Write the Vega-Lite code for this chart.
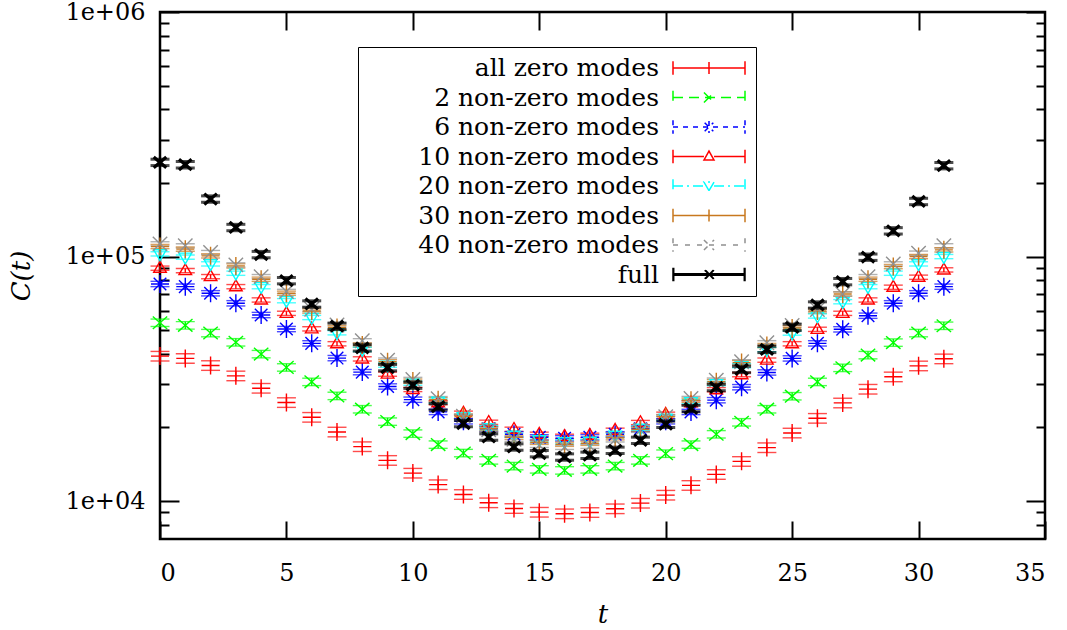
{
  "$schema": "https://vega.github.io/schema/vega-lite/v6.json",
  "width": 885,
  "height": 527,
  "autosize": {"type": "none"},
  "padding": {"left": 160, "top": 12, "right": 22, "bottom": 91},
  "background": "white",
  "config": {
    "view": {"stroke": "black", "strokeWidth": 2.5},
    "axis": {"grid": false, "domain": false, "tickColor": "black", "tickWidth": 2, "labelFont": "DejaVu Serif", "labelFontSize": 24, "labelColor": "black", "titleFont": "DejaVu Serif", "titleFontSize": 26, "titleFontWeight": "normal", "titleFontStyle": "italic", "titleColor": "black"}
  },
  "datasets": {
    "pts": [
      {"s":"all zero modes","t":0,"v":39170,"e":1763},{"s":"all zero modes","t":1,"v":38330,"e":1725},{"s":"all zero modes","t":2,"v":35870,"e":1614},{"s":"all zero modes","t":3,"v":32530,"e":1464},{"s":"all zero modes","t":4,"v":28960,"e":1303},{"s":"all zero modes","t":5,"v":25310,"e":1139},{"s":"all zero modes","t":6,"v":22030,"e":991},{"s":"all zero modes","t":7,"v":19180,"e":863},{"s":"all zero modes","t":8,"v":16710,"e":752},{"s":"all zero modes","t":9,"v":14680,"e":661},{"s":"all zero modes","t":10,"v":13020,"e":586},{"s":"all zero modes","t":11,"v":11680,"e":526},{"s":"all zero modes","t":12,"v":10650,"e":479},{"s":"all zero modes","t":13,"v":9850,"e":443},{"s":"all zero modes","t":14,"v":9335,"e":420},{"s":"all zero modes","t":15,"v":9013,"e":406},{"s":"all zero modes","t":16,"v":8880,"e":400},{"s":"all zero modes","t":17,"v":8990,"e":405},{"s":"all zero modes","t":18,"v":9310,"e":419},{"s":"all zero modes","t":19,"v":9813,"e":442},{"s":"all zero modes","t":20,"v":10583,"e":476},{"s":"all zero modes","t":21,"v":11600,"e":522},{"s":"all zero modes","t":22,"v":12860,"e":579},{"s":"all zero modes","t":23,"v":14540,"e":654},{"s":"all zero modes","t":24,"v":16550,"e":745},{"s":"all zero modes","t":25,"v":19000,"e":855},{"s":"all zero modes","t":26,"v":21820,"e":982},{"s":"all zero modes","t":27,"v":25210,"e":1134},{"s":"all zero modes","t":28,"v":28700,"e":1292},{"s":"all zero modes","t":29,"v":32230,"e":1450},{"s":"all zero modes","t":30,"v":35740,"e":1608},{"s":"all zero modes","t":31,"v":38190,"e":1719},
      {"s":"2 non-zero modes","t":0,"v":53640,"e":1877},{"s":"2 non-zero modes","t":1,"v":52350,"e":1832},{"s":"2 non-zero modes","t":2,"v":48670,"e":1703},{"s":"2 non-zero modes","t":3,"v":44620,"e":1562},{"s":"2 non-zero modes","t":4,"v":39930,"e":1398},{"s":"2 non-zero modes","t":5,"v":35220,"e":1233},{"s":"2 non-zero modes","t":6,"v":30740,"e":1076},{"s":"2 non-zero modes","t":7,"v":26940,"e":943},{"s":"2 non-zero modes","t":8,"v":23760,"e":832},{"s":"2 non-zero modes","t":9,"v":21150,"e":740},{"s":"2 non-zero modes","t":10,"v":18890,"e":661},{"s":"2 non-zero modes","t":11,"v":17030,"e":596},{"s":"2 non-zero modes","t":12,"v":15730,"e":551},{"s":"2 non-zero modes","t":13,"v":14680,"e":514},{"s":"2 non-zero modes","t":14,"v":13910,"e":487},{"s":"2 non-zero modes","t":15,"v":13490,"e":472},{"s":"2 non-zero modes","t":16,"v":13360,"e":468},{"s":"2 non-zero modes","t":17,"v":13490,"e":472},{"s":"2 non-zero modes","t":18,"v":13910,"e":487},{"s":"2 non-zero modes","t":19,"v":14680,"e":514},{"s":"2 non-zero modes","t":20,"v":15640,"e":547},{"s":"2 non-zero modes","t":21,"v":17030,"e":596},{"s":"2 non-zero modes","t":22,"v":18770,"e":657},{"s":"2 non-zero modes","t":23,"v":21010,"e":735},{"s":"2 non-zero modes","t":24,"v":23760,"e":832},{"s":"2 non-zero modes","t":25,"v":26860,"e":940},{"s":"2 non-zero modes","t":26,"v":30740,"e":1076},{"s":"2 non-zero modes","t":27,"v":35080,"e":1228},{"s":"2 non-zero modes","t":28,"v":39550,"e":1384},{"s":"2 non-zero modes","t":29,"v":44500,"e":1558},{"s":"2 non-zero modes","t":30,"v":48670,"e":1703},{"s":"2 non-zero modes","t":31,"v":52150,"e":1825},
      {"s":"6 non-zero modes","t":0,"v":77270,"e":1932},{"s":"6 non-zero modes","t":1,"v":75330,"e":1883},{"s":"6 non-zero modes","t":2,"v":70790,"e":1770},{"s":"6 non-zero modes","t":3,"v":64420,"e":1611},{"s":"6 non-zero modes","t":4,"v":57690,"e":1442},{"s":"6 non-zero modes","t":5,"v":50550,"e":1264},{"s":"6 non-zero modes","t":6,"v":44170,"e":1104},{"s":"6 non-zero modes","t":7,"v":38450,"e":961},{"s":"6 non-zero modes","t":8,"v":33690,"e":842},{"s":"6 non-zero modes","t":9,"v":29440,"e":736},{"s":"6 non-zero modes","t":10,"v":25990,"e":650},{"s":"6 non-zero modes","t":11,"v":23160,"e":579},{"s":"6 non-zero modes","t":12,"v":21210,"e":530},{"s":"6 non-zero modes","t":13,"v":19760,"e":494},{"s":"6 non-zero modes","t":14,"v":18770,"e":469},{"s":"6 non-zero modes","t":15,"v":18240,"e":456},{"s":"6 non-zero modes","t":16,"v":18070,"e":452},{"s":"6 non-zero modes","t":17,"v":18240,"e":456},{"s":"6 non-zero modes","t":18,"v":18770,"e":469},{"s":"6 non-zero modes","t":19,"v":19760,"e":494},{"s":"6 non-zero modes","t":20,"v":21210,"e":530},{"s":"6 non-zero modes","t":21,"v":23160,"e":579},{"s":"6 non-zero modes","t":22,"v":25870,"e":647},{"s":"6 non-zero modes","t":23,"v":29240,"e":731},{"s":"6 non-zero modes","t":24,"v":33590,"e":840},{"s":"6 non-zero modes","t":25,"v":38340,"e":959},{"s":"6 non-zero modes","t":26,"v":44170,"e":1104},{"s":"6 non-zero modes","t":27,"v":50410,"e":1260},{"s":"6 non-zero modes","t":28,"v":57310,"e":1433},{"s":"6 non-zero modes","t":29,"v":64420,"e":1611},{"s":"6 non-zero modes","t":30,"v":70790,"e":1770},{"s":"6 non-zero modes","t":31,"v":75330,"e":1883},
      {"s":"10 non-zero modes","t":0,"v":89640,"e":1793},{"s":"10 non-zero modes","t":1,"v":87620,"e":1752},{"s":"10 non-zero modes","t":2,"v":82790,"e":1656},{"s":"10 non-zero modes","t":3,"v":75330,"e":1507},{"s":"10 non-zero modes","t":4,"v":66460,"e":1329},{"s":"10 non-zero modes","t":5,"v":58610,"e":1172},{"s":"10 non-zero modes","t":6,"v":50640,"e":1013},{"s":"10 non-zero modes","t":7,"v":44000,"e":880},{"s":"10 non-zero modes","t":8,"v":38160,"e":763},{"s":"10 non-zero modes","t":9,"v":33060,"e":661},{"s":"10 non-zero modes","t":10,"v":28610,"e":572},{"s":"10 non-zero modes","t":11,"v":25260,"e":505},{"s":"10 non-zero modes","t":12,"v":22880,"e":458},{"s":"10 non-zero modes","t":13,"v":21010,"e":420},{"s":"10 non-zero modes","t":14,"v":19670,"e":393},{"s":"10 non-zero modes","t":15,"v":18770,"e":375},{"s":"10 non-zero modes","t":16,"v":18410,"e":368},{"s":"10 non-zero modes","t":17,"v":18590,"e":372},{"s":"10 non-zero modes","t":18,"v":19490,"e":390},{"s":"10 non-zero modes","t":19,"v":20960,"e":419},{"s":"10 non-zero modes","t":20,"v":22660,"e":453},{"s":"10 non-zero modes","t":21,"v":25260,"e":505},{"s":"10 non-zero modes","t":22,"v":28550,"e":571},{"s":"10 non-zero modes","t":23,"v":32900,"e":658},{"s":"10 non-zero modes","t":24,"v":37720,"e":754},{"s":"10 non-zero modes","t":25,"v":44000,"e":880},{"s":"10 non-zero modes","t":26,"v":50410,"e":1008},{"s":"10 non-zero modes","t":27,"v":58610,"e":1172},{"s":"10 non-zero modes","t":28,"v":66460,"e":1329},{"s":"10 non-zero modes","t":29,"v":74920,"e":1498},{"s":"10 non-zero modes","t":30,"v":82330,"e":1647},{"s":"10 non-zero modes","t":31,"v":88210,"e":1764},
      {"s":"20 non-zero modes","t":0,"v":102590,"e":2052},{"s":"20 non-zero modes","t":1,"v":99430,"e":1989},{"s":"20 non-zero modes","t":2,"v":93350,"e":1867},{"s":"20 non-zero modes","t":3,"v":85500,"e":1710},{"s":"20 non-zero modes","t":4,"v":75330,"e":1507},{"s":"20 non-zero modes","t":5,"v":66020,"e":1320},{"s":"20 non-zero modes","t":6,"v":56340,"e":1127},{"s":"20 non-zero modes","t":7,"v":48800,"e":976},{"s":"20 non-zero modes","t":8,"v":41740,"e":835},{"s":"20 non-zero modes","t":9,"v":35980,"e":720},{"s":"20 non-zero modes","t":10,"v":30370,"e":607},{"s":"20 non-zero modes","t":11,"v":25620,"e":512},{"s":"20 non-zero modes","t":12,"v":22140,"e":443},{"s":"20 non-zero modes","t":13,"v":19950,"e":399},{"s":"20 non-zero modes","t":14,"v":18590,"e":372},{"s":"20 non-zero modes","t":15,"v":17810,"e":356},{"s":"20 non-zero modes","t":16,"v":17480,"e":350},{"s":"20 non-zero modes","t":17,"v":17560,"e":351},{"s":"20 non-zero modes","t":18,"v":18590,"e":372},{"s":"20 non-zero modes","t":19,"v":19860,"e":397},{"s":"20 non-zero modes","t":20,"v":21830,"e":437},{"s":"20 non-zero modes","t":21,"v":25500,"e":510},{"s":"20 non-zero modes","t":22,"v":30220,"e":604},{"s":"20 non-zero modes","t":23,"v":35810,"e":716},{"s":"20 non-zero modes","t":24,"v":41660,"e":833},{"s":"20 non-zero modes","t":25,"v":48670,"e":973},{"s":"20 non-zero modes","t":26,"v":57150,"e":1143},{"s":"20 non-zero modes","t":27,"v":65390,"e":1308},{"s":"20 non-zero modes","t":28,"v":75330,"e":1507},{"s":"20 non-zero modes","t":29,"v":85500,"e":1710},{"s":"20 non-zero modes","t":30,"v":93350,"e":1867},{"s":"20 non-zero modes","t":31,"v":100000,"e":2000},
      {"s":"30 non-zero modes","t":0,"v":109900,"e":2198},{"s":"30 non-zero modes","t":1,"v":107230,"e":2145},{"s":"30 non-zero modes","t":2,"v":100670,"e":2013},{"s":"30 non-zero modes","t":3,"v":91590,"e":1832},{"s":"30 non-zero modes","t":4,"v":80790,"e":1616},{"s":"30 non-zero modes","t":5,"v":70790,"e":1416},{"s":"30 non-zero modes","t":6,"v":59900,"e":1198},{"s":"30 non-zero modes","t":7,"v":51270,"e":1025},{"s":"30 non-zero modes","t":8,"v":43460,"e":869},{"s":"30 non-zero modes","t":9,"v":37120,"e":742},{"s":"30 non-zero modes","t":10,"v":30950,"e":619},{"s":"30 non-zero modes","t":11,"v":25990,"e":520},{"s":"30 non-zero modes","t":12,"v":22240,"e":445},{"s":"30 non-zero modes","t":13,"v":19760,"e":395},{"s":"30 non-zero modes","t":14,"v":18240,"e":365},{"s":"30 non-zero modes","t":15,"v":17400,"e":348},{"s":"30 non-zero modes","t":16,"v":17080,"e":342},{"s":"30 non-zero modes","t":17,"v":17240,"e":345},{"s":"30 non-zero modes","t":18,"v":18160,"e":363},{"s":"30 non-zero modes","t":19,"v":19670,"e":393},{"s":"30 non-zero modes","t":20,"v":22140,"e":443},{"s":"30 non-zero modes","t":21,"v":25870,"e":517},{"s":"30 non-zero modes","t":22,"v":30800,"e":616},{"s":"30 non-zero modes","t":23,"v":36840,"e":737},{"s":"30 non-zero modes","t":24,"v":43260,"e":865},{"s":"30 non-zero modes","t":25,"v":51030,"e":1021},{"s":"30 non-zero modes","t":26,"v":59900,"e":1198},{"s":"30 non-zero modes","t":27,"v":70320,"e":1406},{"s":"30 non-zero modes","t":28,"v":80790,"e":1616},{"s":"30 non-zero modes","t":29,"v":91000,"e":1820},{"s":"30 non-zero modes","t":30,"v":100000,"e":2000},{"s":"30 non-zero modes","t":31,"v":106530,"e":2131},
      {"s":"40 non-zero modes","t":0,"v":112700,"e":2254},{"s":"40 non-zero modes","t":1,"v":110640,"e":2213},{"s":"40 non-zero modes","t":2,"v":103850,"e":2077},{"s":"40 non-zero modes","t":3,"v":92470,"e":1849},{"s":"40 non-zero modes","t":4,"v":82790,"e":1656},{"s":"40 non-zero modes","t":5,"v":72000,"e":1440},{"s":"40 non-zero modes","t":6,"v":60860,"e":1217},{"s":"40 non-zero modes","t":7,"v":52490,"e":1050},{"s":"40 non-zero modes","t":8,"v":45250,"e":905},{"s":"40 non-zero modes","t":9,"v":37720,"e":754},{"s":"40 non-zero modes","t":10,"v":31440,"e":629},{"s":"40 non-zero modes","t":11,"v":26240,"e":525},{"s":"40 non-zero modes","t":12,"v":22240,"e":445},{"s":"40 non-zero modes","t":13,"v":19570,"e":391},{"s":"40 non-zero modes","t":14,"v":17900,"e":358},{"s":"40 non-zero modes","t":15,"v":16910,"e":338},{"s":"40 non-zero modes","t":16,"v":16600,"e":332},{"s":"40 non-zero modes","t":17,"v":16760,"e":335},{"s":"40 non-zero modes","t":18,"v":17810,"e":356},{"s":"40 non-zero modes","t":19,"v":19490,"e":390},{"s":"40 non-zero modes","t":20,"v":22140,"e":443},{"s":"40 non-zero modes","t":21,"v":26280,"e":526},{"s":"40 non-zero modes","t":22,"v":31240,"e":625},{"s":"40 non-zero modes","t":23,"v":37120,"e":742},{"s":"40 non-zero modes","t":24,"v":44420,"e":888},{"s":"40 non-zero modes","t":25,"v":52240,"e":1045},{"s":"40 non-zero modes","t":26,"v":60750,"e":1215},{"s":"40 non-zero modes","t":27,"v":70320,"e":1406},{"s":"40 non-zero modes","t":28,"v":82790,"e":1656},{"s":"40 non-zero modes","t":29,"v":93350,"e":1867},{"s":"40 non-zero modes","t":30,"v":103250,"e":2065},{"s":"40 non-zero modes","t":31,"v":110640,"e":2213},
      {"s":"full","t":0,"v":242800,"e":7284},{"s":"full","t":1,"v":237600,"e":7128},{"s":"full","t":2,"v":171900,"e":5157},{"s":"full","t":3,"v":131500,"e":3945},{"s":"full","t":4,"v":101910,"e":3057},{"s":"full","t":5,"v":79730,"e":2392},{"s":"full","t":6,"v":64000,"e":1920},{"s":"full","t":7,"v":51900,"e":1557},{"s":"full","t":8,"v":42330,"e":1270},{"s":"full","t":9,"v":35150,"e":1055},{"s":"full","t":10,"v":29800,"e":894},{"s":"full","t":11,"v":24320,"e":730},{"s":"full","t":12,"v":20760,"e":623},{"s":"full","t":13,"v":18290,"e":549},{"s":"full","t":14,"v":16650,"e":500},{"s":"full","t":15,"v":15640,"e":469},{"s":"full","t":16,"v":15150,"e":455},{"s":"full","t":17,"v":15400,"e":462},{"s":"full","t":18,"v":16140,"e":484},{"s":"full","t":19,"v":17730,"e":532},{"s":"full","t":20,"v":20620,"e":619},{"s":"full","t":21,"v":23920,"e":718},{"s":"full","t":22,"v":29160,"e":875},{"s":"full","t":23,"v":34560,"e":1037},{"s":"full","t":24,"v":41740,"e":1252},{"s":"full","t":25,"v":51370,"e":1541},{"s":"full","t":26,"v":63390,"e":1902},{"s":"full","t":27,"v":78990,"e":2370},{"s":"full","t":28,"v":99430,"e":2983},{"s":"full","t":29,"v":127450,"e":3824},{"s":"full","t":30,"v":168030,"e":5041},{"s":"full","t":31,"v":235340,"e":7060}
    ]
  },
  "resolve": {
    "scale": {"color": "independent", "shape": "independent", "strokeDash": "independent"},
    "axis": {"x": "independent", "y": "independent"}
  },
  "layer": [
    {
      "data": {"name": "pts"},
      "transform": [{"filter": "datum.s != 'full'"}],
      "mark": {"type": "errorbar", "ticks": {"size": 19}, "thickness": 1.4},
      "encoding": {
        "x": {"field": "t", "type": "quantitative", "scale": {"domain": [0, 35], "nice": false},
              "axis": {"orient": "bottom", "values": [0, 5, 10, 15, 20, 25, 30, 35], "tickSize": -18, "labelPadding": 40, "title": "t", "titlePadding": 16}},
        "y": {"field": "v", "type": "quantitative", "scale": {"type": "log", "domain": [7000, 1000000], "nice": false},
              "axis": {"orient": "left", "values": [10000, 100000, 1000000], "tickSize": -19, "labelPadding": 34, "labelExpr": "'1e+0' + round(log(datum.value)/LN10)", "title": "C(t)", "titlePadding": 30}},
        "yError": {"field": "e"},
        "color": {"field": "s", "type": "nominal", "legend": null,
                  "scale": {"domain": ["all zero modes", "2 non-zero modes", "6 non-zero modes", "10 non-zero modes", "20 non-zero modes", "30 non-zero modes", "40 non-zero modes", "full"],
                            "range": ["#ff0000", "#00ff00", "#0000ff", "#ff0000", "#00ffff", "#c8781e", "#909090", "#000000"]}}
      }
    },
    {
      "data": {"name": "pts"},
      "transform": [{"filter": "datum.s != 'full'"}],
      "mark": {"type": "point", "filled": false, "size": 324, "strokeWidth": 1.4, "opacity": 1},
      "encoding": {
        "x": {"field": "t", "type": "quantitative", "scale": {"domain": [0, 35], "nice": false},
              "axis": {"orient": "top", "values": [5, 10, 15, 20, 25, 30], "tickSize": -18, "labels": false, "title": null}},
        "y": {"field": "v", "type": "quantitative", "scale": {"type": "log", "domain": [7000, 1000000], "nice": false},
              "axis": {"orient": "left", "values": [8000, 9000, 20000, 30000, 40000, 50000, 60000, 70000, 80000, 90000, 200000, 300000, 400000, 500000, 600000, 700000, 800000, 900000], "tickSize": -9, "labels": false, "title": null}},
        "color": {"field": "s", "type": "nominal", "legend": null,
                  "scale": {"domain": ["all zero modes", "2 non-zero modes", "6 non-zero modes", "10 non-zero modes", "20 non-zero modes", "30 non-zero modes", "40 non-zero modes", "full"],
                            "range": ["#ff0000", "#00ff00", "#0000ff", "#ff0000", "#00ffff", "#c8781e", "#909090", "#000000"]}},
        "shape": {"field": "s", "type": "nominal", "legend": null,
                  "scale": {"domain": ["all zero modes", "2 non-zero modes", "6 non-zero modes", "10 non-zero modes", "20 non-zero modes", "30 non-zero modes", "40 non-zero modes", "full"],
                            "range": ["M-1,0H1M0,-1V1", "M-0.8,-0.7L0.8,0.7M-0.8,0.7L0.8,-0.7", "M-1,0H1M0,-1V1M-0.7,-0.7L0.7,0.7M-0.7,0.7L0.7,-0.7", "M0,-0.75L0.7,0.45L-0.7,0.45Z", "M0,0.75L0.7,-0.45L-0.7,-0.45Z", "M-1,0H1M0,-1V1", "M-0.8,-0.8L0.8,0.8M-0.8,0.8L0.8,-0.8", "M-0.7,-0.7L0.7,0.7M-0.7,0.7L0.7,-0.7"]}}
      }
    },
    {
      "data": {"name": "pts"},
      "transform": [{"filter": "datum.s == 'full'"}],
      "mark": {"type": "errorbar", "ticks": {"size": 19}, "thickness": 3, "color": "#000000"},
      "encoding": {
        "x": {"field": "t", "type": "quantitative", "scale": {"domain": [0, 35], "nice": false}, "axis": null},
        "y": {"field": "v", "type": "quantitative", "scale": {"type": "log", "domain": [7000, 1000000], "nice": false},
              "axis": {"orient": "right", "values": [10000, 100000, 1000000], "tickSize": -19, "labels": false, "title": null}},
        "yError": {"field": "e"}
      }
    },
    {
      "data": {"name": "pts"},
      "transform": [{"filter": "datum.s == 'full'"}],
      "mark": {"type": "point", "filled": false, "size": 324, "strokeWidth": 3.2, "color": "#000000", "opacity": 1, "shape": "M-0.7,-0.6L0.7,0.6M-0.7,0.6L0.7,-0.6"},
      "encoding": {
        "x": {"field": "t", "type": "quantitative", "scale": {"domain": [0, 35], "nice": false}, "axis": null},
        "y": {"field": "v", "type": "quantitative", "scale": {"type": "log", "domain": [7000, 1000000], "nice": false},
              "axis": {"orient": "right", "values": [8000, 9000, 20000, 30000, 40000, 50000, 60000, 70000, 80000, 90000, 200000, 300000, 400000, 500000, 600000, 700000, 800000, 900000], "tickSize": -9, "labels": false, "title": null}}
      }
    },
    {
      "data": {"values": []},
      "mark": {"type": "point", "filled": false, "size": 576, "strokeWidth": 1.5, "opacity": 1},
      "encoding": {
        "color": {"field": "s", "type": "nominal",
                  "scale": {"domain": ["all zero modes", "2 non-zero modes", "6 non-zero modes", "10 non-zero modes", "20 non-zero modes", "30 non-zero modes", "40 non-zero modes", "full"],
                            "range": ["#ff0000", "#00ff00", "#0000ff", "#ff0000", "#00ffff", "#c8781e", "#909090", "#000000"]},
                  "legend": {"title": null, "orient": "none", "legendX": 198, "legendY": 35, "padding": 8, "fillColor": "white", "strokeColor": "black", "labelFont": "DejaVu Serif", "labelFontSize": 25, "labelColor": "black", "labelAlign": "right", "labelOffset": -63, "symbolOffset": 330, "labelLimit": 600, "rowPadding": 3.5, "symbolStrokeWidth": 1.5, "symbolSize": 576, "encode": {"legend": {"update": {"strokeWidth": {"value": 2.5}}}}}},
        "shape": {"field": "s", "type": "nominal",
                  "scale": {"domain": ["all zero modes", "2 non-zero modes", "6 non-zero modes", "10 non-zero modes", "20 non-zero modes", "30 non-zero modes", "40 non-zero modes", "full"],
                            "range": [
                              "M-3,-0.57V0.57M3,-0.57V0.57M-3,0H3M0,-0.5V0.5",
                              "M-3,-0.57V0.57M3,-0.57V0.57M-3,0H3M-0.42,-0.42L0.42,0.42M-0.42,0.42L0.42,-0.42",
                              "M-3,-0.57V0.57M3,-0.57V0.57M-3,0H3M0,-0.5V0.5M-0.36,-0.36L0.36,0.36M-0.36,0.36L0.36,-0.36",
                              "M-3,-0.57V0.57M3,-0.57V0.57M-3,0H-0.42M0.42,0H3M0,-0.45L0.42,0.3L-0.42,0.3Z",
                              "M-3,-0.57V0.57M3,-0.57V0.57M-3,0H-0.42M0.42,0H3M0,0.39L0.42,-0.33L-0.42,-0.33Z",
                              "M-3,-0.57V0.57M3,-0.57V0.57M-3,0H3M0,-0.5V0.5",
                              "M-3,-0.57V0.57M3,-0.57V0.57M-3,0H3M-0.42,-0.42L0.42,0.42M-0.42,0.42L0.42,-0.42",
                              "M-3,-0.57V0.57M-2.94,-0.57V0.57M3,-0.57V0.57M2.94,-0.57V0.57M-3,-0.06H3M-3,0.06H3M-0.36,-0.36L0.36,0.36M-0.36,0.36L0.36,-0.36M-0.3,-0.36L0.42,0.36M-0.3,0.36L0.42,-0.36"
                            ]},
                  "legend": {"title": null, "orient": "none", "legendX": 198, "legendY": 35}},
        "strokeDash": {"field": "s", "type": "nominal",
                  "scale": {"domain": ["all zero modes", "2 non-zero modes", "6 non-zero modes", "10 non-zero modes", "20 non-zero modes", "30 non-zero modes", "40 non-zero modes", "full"],
                            "range": [[1, 0], [10, 6], [5, 5], [1, 0], [10, 4, 2, 4], [1, 0], [5, 7], [1, 0]]},
                  "legend": {"title": null, "orient": "none", "legendX": 198, "legendY": 35}}
      }
    }
  ]
}
